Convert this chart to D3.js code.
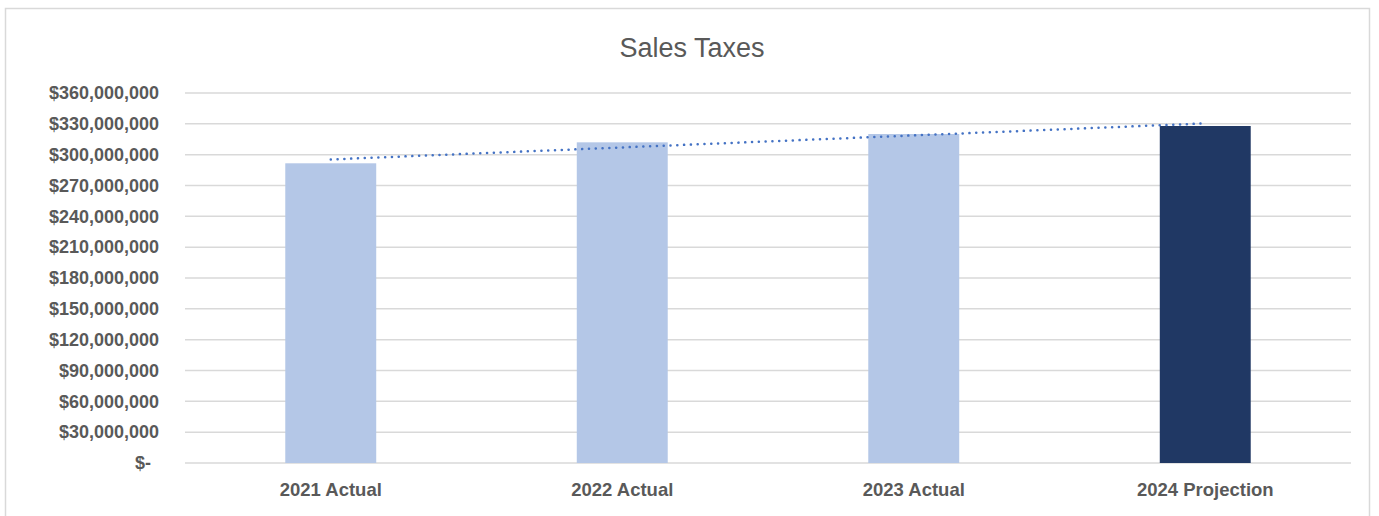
<!DOCTYPE html>
<html>
<head>
<meta charset="utf-8">
<script src="https://cdn.jsdelivr.net/npm/d3@7"></script>
<style>
  body { margin: 0; background: #fff; }
  text { font-family: "Liberation Sans", Arial, sans-serif; }
</style>
</head>
<body>
<div class="viz-tax"></div>
<script>
// Chart data
var categories = ['2021 Actual', '2022 Actual', '2023 Actual', '2024 Projection'];
var salesTax = [291600000, 312000000, 320100000, 327900000];
var isProjection = [false, false, false, true];
var yTicks = [0, 30e6, 60e6, 90e6, 120e6, 150e6, 180e6, 210e6, 240e6, 270e6, 300e6, 330e6, 360e6];

var w = 1379;
var h = 516;

var svg = d3.select('.viz-tax')
            .append('svg')
            .attr('width', w)
            .attr('height', h);

// chart border
svg.append('rect')
   .attr('x', 5.5).attr('y', 8.5)
   .attr('width', 1364).attr('height', 520)
   .attr('fill', 'none')
   .attr('stroke', '#d9d9d9')
   .attr('stroke-width', 1.5);

// title
svg.append('text')
   .attr('x', 692).attr('y', 57)
   .attr('text-anchor', 'middle')
   .attr('font-size', '27px')
   .attr('fill', '#595959')
   .text('Sales Taxes');

// plot area
var pLeft = 185, pRight = 1351, pTop = 93, pBottom = 463;

var x = d3.scaleBand()
          .domain(categories)
          .range([pLeft, pRight])
          .paddingInner(0.688)
          .paddingOuter(0.344);

var y = d3.scaleLinear()
          .domain([0, 360e6])
          .range([pBottom, pTop]);

// gridlines
svg.append('g')
   .selectAll('line')
   .data(yTicks)
   .enter().append('line')
   .attr('x1', pLeft).attr('x2', pRight)
   .attr('y1', function(d) { return y(d); })
   .attr('y2', function(d) { return y(d); })
   .attr('stroke', '#d9d9d9')
   .attr('stroke-width', 1.5);

// y axis labels
var fmt = d3.format(',');
var yAxis = svg.append('g')
   .attr('transform', 'translate(' + pLeft + ',0)')
   .call(d3.axisLeft(y).tickValues(yTicks).tickSize(0).tickPadding(26)
           .tickFormat(function(d) { return d === 0 ? '$-' : '$' + fmt(d); }));
yAxis.select('.domain').remove();
yAxis.selectAll('text')
     .attr('font-size', '18px')
     .attr('font-weight', 'bold')
     .attr('fill', '#595959')
     .attr('font-family', '"Liberation Sans", Arial, sans-serif')
     .attr('dx', function(d) { return d === 0 ? -8 : 0; });

// bars
svg.append('g')
   .selectAll('rect')
   .data(salesTax)
   .enter().append('rect')
   .attr('x', function(d, i) { return x(categories[i]); })
   .attr('width', x.bandwidth())
   .attr('y', function(d) { return y(d); })
   .attr('height', function(d) { return y(0) - y(d); })
   .attr('fill', function(d, i) { return isProjection[i] ? '#203864' : '#b4c7e7'; });

// x axis labels
var xAxis = svg.append('g')
   .attr('transform', 'translate(0,' + pBottom + ')')
   .call(d3.axisBottom(x).tickSize(0).tickPadding(20));
xAxis.select('.domain').remove();
xAxis.selectAll('text')
     .attr('font-size', '18.5px')
     .attr('font-weight', 'bold')
     .attr('fill', '#595959')
     .attr('font-family', '"Liberation Sans", Arial, sans-serif');

// linear trendline (least squares over the bars)
var n = salesTax.length;
var mx = d3.mean(d3.range(n));
var my = d3.mean(salesTax);
var slope = d3.sum(salesTax, function(v, i) { return (i - mx) * (v - my); }) /
            d3.sum(d3.range(n), function(i) { return (i - mx) * (i - mx); });
var icpt = my - slope * mx;
var trend = [0, n - 1].map(function(i) {
  return [x(categories[i]) + x.bandwidth() / 2, y(icpt + slope * i)];
});

svg.append('path')
   .attr('d', d3.line()(trend))
   .attr('fill', 'none')
   .attr('stroke', '#4472c4')
   .attr('stroke-width', 2.5)
   .attr('stroke-linecap', 'round')
   .attr('stroke-dasharray', '0.1 6.7');
</script>
</body>
</html>
